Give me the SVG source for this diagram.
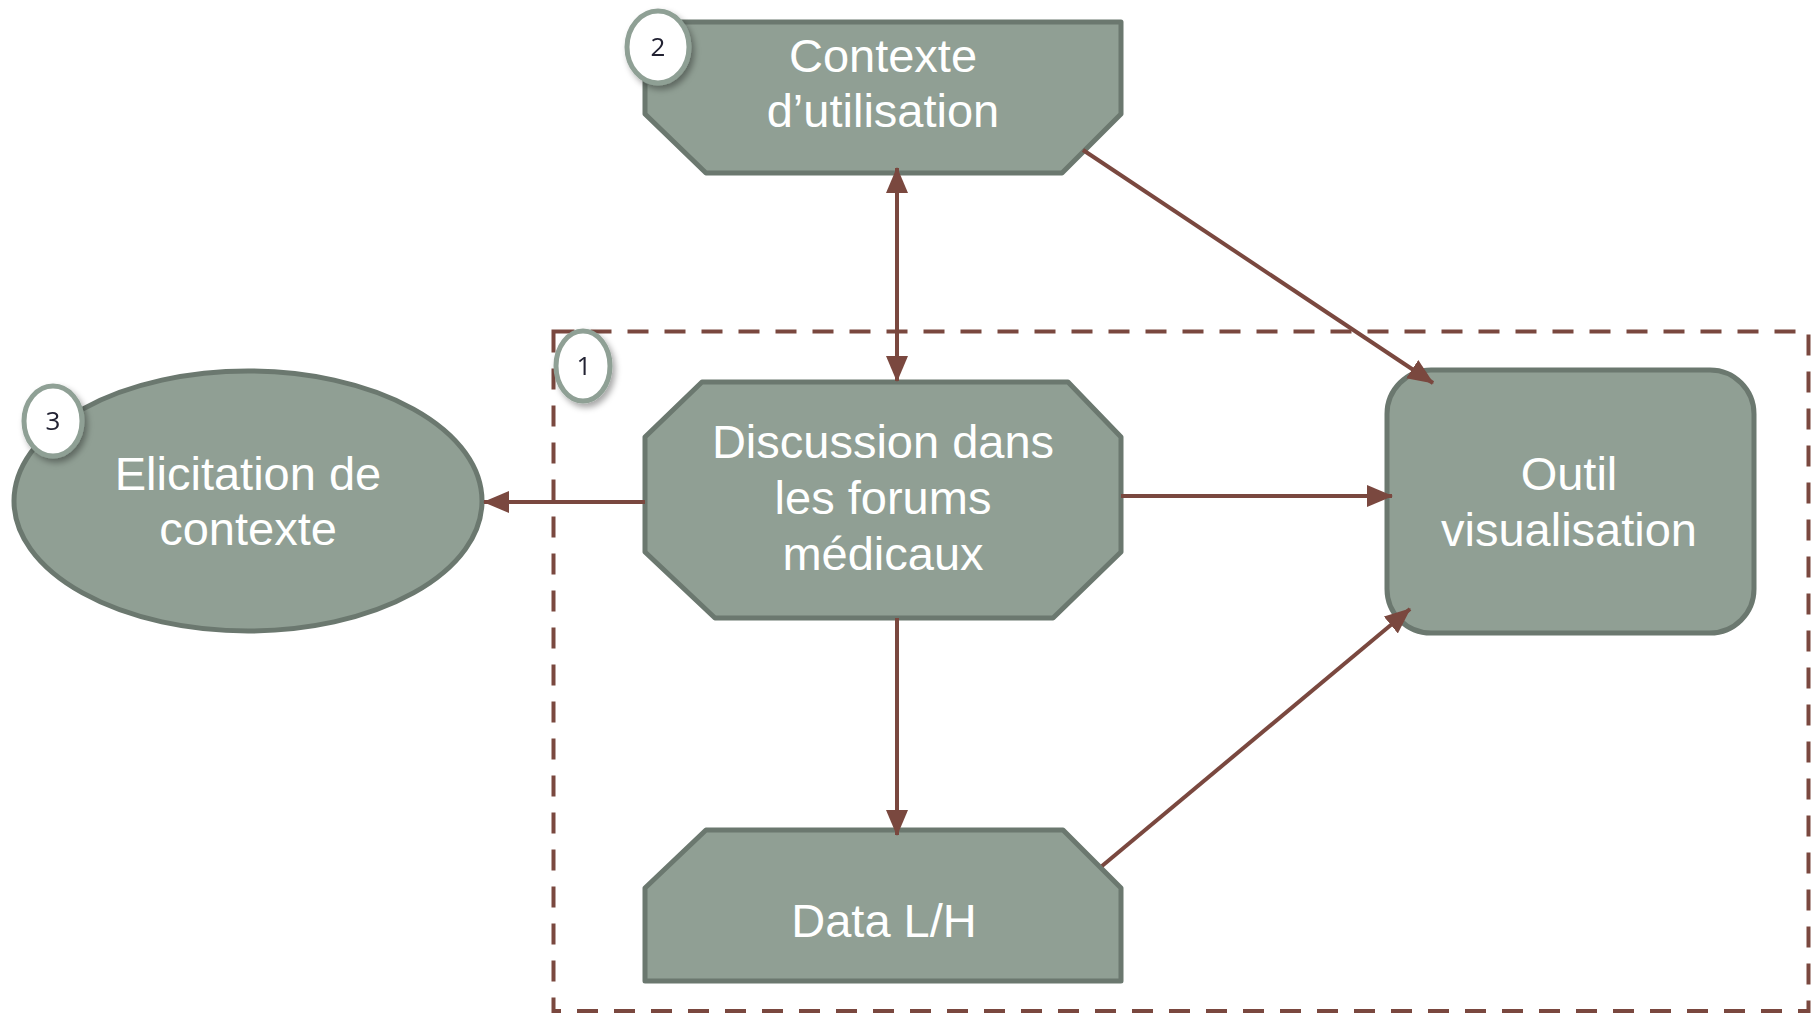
<svg xmlns="http://www.w3.org/2000/svg" width="1812" height="1013" viewBox="0 0 1812 1013">
<style>
.node{fill:#909f94;stroke:#6b786f;stroke-width:5;stroke-linejoin:round}
.lbl{fill:#ffffff;font-family:"Liberation Sans",Arial,sans-serif;font-size:47px;text-anchor:middle}
.conn{stroke:#7a483f;stroke-width:4;fill:none}
.frame{stroke:#7a483f;stroke-width:4;fill:none;stroke-dasharray:21 16}
.badge{fill:#ffffff;stroke:#8fa095;stroke-width:5}
.num{fill:#222233;font-family:"Open Sans","Liberation Sans",sans-serif;font-size:26px;text-anchor:middle}
</style>
<defs>
<marker id="ah" markerUnits="userSpaceOnUse" markerWidth="26" markerHeight="22" refX="25" refY="11" orient="auto-start-reverse">
<path d="M0,0 L26,11 L0,22 z" fill="#7a483f"/>
</marker>
<filter id="sh" x="-30%" y="-30%" width="170%" height="170%">
<feDropShadow dx="3" dy="4" stdDeviation="3" flood-color="#000000" flood-opacity="0.35"/>
</filter>
</defs>
<rect class="frame" x="553.5" y="331.5" width="1255" height="679.5"/>
<g id="node-contexte">
<path class="node" d="M645,22 L1121,22 L1121,114 L1062,173 L706,173 L645,114 Z"/>
<text class="lbl" x="883" y="72">Contexte</text>
<text class="lbl" x="883" y="127">d’utilisation</text>
</g>
<g id="node-discussion">
<path class="node" d="M702,382 L1068,382 L1121,437 L1121,552 L1053,618 L715,618 L645,552 L645,437 Z"/>
<text class="lbl" x="883" y="458">Discussion dans</text>
<text class="lbl" x="883" y="514">les forums</text>
<text class="lbl" x="883" y="570">médicaux</text>
</g>
<g id="node-elicitation">
<ellipse class="node" cx="248" cy="501" rx="234" ry="130"/>
<text class="lbl" x="248" y="490">Elicitation de</text>
<text class="lbl" x="248" y="545">contexte</text>
</g>
<g id="node-outil">
<rect class="node" x="1387" y="370" width="367" height="263" rx="44" ry="44"/>
<text class="lbl" x="1569" y="490">Outil</text>
<text class="lbl" x="1569" y="546">visualisation</text>
</g>
<g id="node-data">
<path class="node" d="M706,830 L1063,830 L1121,888 L1121,981 L645,981 L645,888 Z"/>
<text class="lbl" x="884" y="937">Data L/H</text>
</g>
<g id="connectors">
<line class="conn" x1="897" y1="168" x2="897" y2="381" marker-start="url(#ah)" marker-end="url(#ah)"/>
<line class="conn" x1="1083" y1="150" x2="1433" y2="383" marker-end="url(#ah)"/>
<line class="conn" x1="645" y1="502" x2="484" y2="502" marker-end="url(#ah)"/>
<line class="conn" x1="1121" y1="496" x2="1392" y2="496" marker-end="url(#ah)"/>
<line class="conn" x1="897" y1="618" x2="897" y2="835" marker-end="url(#ah)"/>
<line class="conn" x1="1102" y1="866" x2="1410" y2="609" marker-end="url(#ah)"/>
</g>
<g id="badge-1" filter="url(#sh)">
<ellipse class="badge" cx="583" cy="366" rx="27" ry="35"/>
<text class="num" x="584" y="375">1</text>
</g>
<g id="badge-2" filter="url(#sh)">
<ellipse class="badge" cx="658" cy="47" rx="31" ry="36"/>
<text class="num" x="658" y="56">2</text>
</g>
<g id="badge-3" filter="url(#sh)">
<ellipse class="badge" cx="53" cy="421" rx="29" ry="35"/>
<text class="num" x="53" y="430">3</text>
</g>
</svg>
